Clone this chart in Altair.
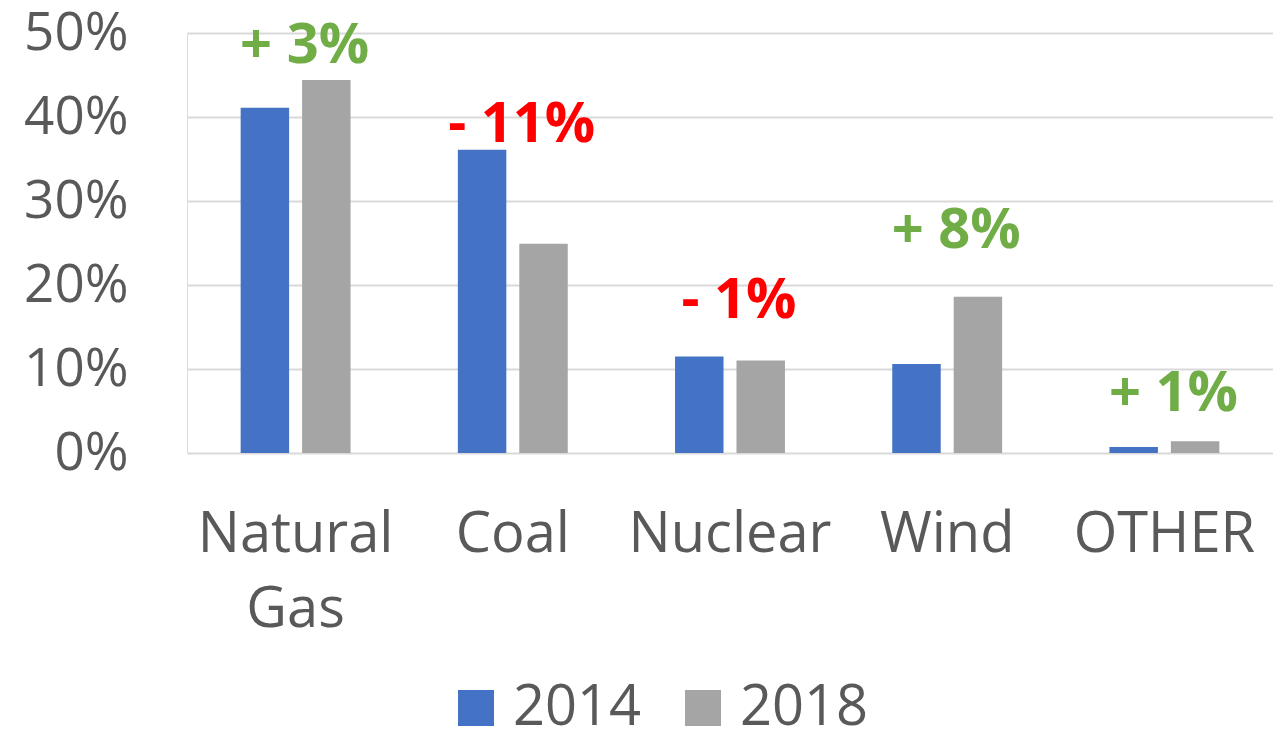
import altair as alt
import pandas as pd

categories = ["Natural Gas", "Coal", "Nuclear", "Wind", "OTHER"]
years = ["2014", "2018"]
share_2014 = [0.411, 0.361, 0.115, 0.106, 0.007]
share_2018 = [0.444, 0.249, 0.110, 0.186, 0.014]
change_pts = [3, -11, -1, 8, 1]
label_anchor = [0.464, 0.370, 0.161, 0.244, 0.050]

rows = []
for c, a, b in zip(categories, share_2014, share_2018):
    rows.append({"category": c, "year": "2014", "share": a})
    rows.append({"category": c, "year": "2018", "share": b})
bars_df = pd.DataFrame(rows)

labels_df = pd.DataFrame({
    "category": categories,
    "change": change_pts,
    "anchor": label_anchor,
})

FONT = "Open Sans"
GREY_TXT = "#595959"

x_enc = alt.X(
    "category:N",
    sort=categories,
    scale=alt.Scale(paddingInner=0.494, paddingOuter=0.247),
    axis=alt.Axis(
        title=None,
        labelAngle=0,
        labelFontSize=56,
        labelColor=GREY_TXT,
        labelFont=FONT,
        labelPadding=54,
        labelLimit=0,
        tickSize=0,
        ticks=False,
        domain=False,
        labelLineHeight=75,
        labelExpr="split(datum.label, ' ')",
    ),
)

bars = alt.Chart(bars_df).mark_bar().encode(
    x=x_enc,
    xOffset=alt.XOffset("year:N", scale=alt.Scale(paddingInner=0.211, paddingOuter=0)),
    y=alt.Y(
        "share:Q",
        scale=alt.Scale(domain=[0, 0.5], nice=False),
        axis=alt.Axis(
            title=None,
            values=[0, 0.1, 0.2, 0.3, 0.4, 0.5],
            format=".0%",
            labelFontSize=53,
            labelColor=GREY_TXT,
            labelFont=FONT,
            labelPadding=59,
            tickSize=0,
            ticks=False,
            domain=False,
            grid=True,
            gridColor="#d9d9d9",
            gridWidth=2,
        ),
    ),
    color=alt.Color(
        "year:N",
        scale=alt.Scale(domain=years, range=["#4472C4", "#A5A5A5"]),
        legend=alt.Legend(
            title=None,
            orient="none",
            legendX=261,
            legendY=647,
            direction="horizontal",
            symbolType="square",
            symbolSize=1296,
            symbolStrokeWidth=0,
            labelFontSize=56,
            labelFont=FONT,
            labelColor=GREY_TXT,
            labelOffset=9,
            columnPadding=33,
            padding=0,
        ),
    ),
)

texts = alt.Chart(labels_df).transform_calculate(
    txt="(datum.change > 0 ? '+ ' : '- ') + abs(datum.change) + '%'"
).mark_text(
    font=FONT, fontSize=56, fontWeight="bold", baseline="alphabetic", align="center", dx=9
).encode(
    x=alt.X("category:N", sort=categories),
    y=alt.Y("anchor:Q"),
    text="txt:N",
    color=alt.condition(alt.datum.change > 0, alt.value("#70AD47"), alt.value("#FF0000")),
)

chart = alt.layer(bars, texts).properties(
    width=1086,
    height=420,
    autosize=alt.AutoSizeParams(type="none"),
    padding={"left": 179, "top": 25, "right": 0, "bottom": 274},
).configure_view(stroke=None).configure(background="white")

chart.save("out.html", embed_options={"renderer": "svg", "actions": False})
